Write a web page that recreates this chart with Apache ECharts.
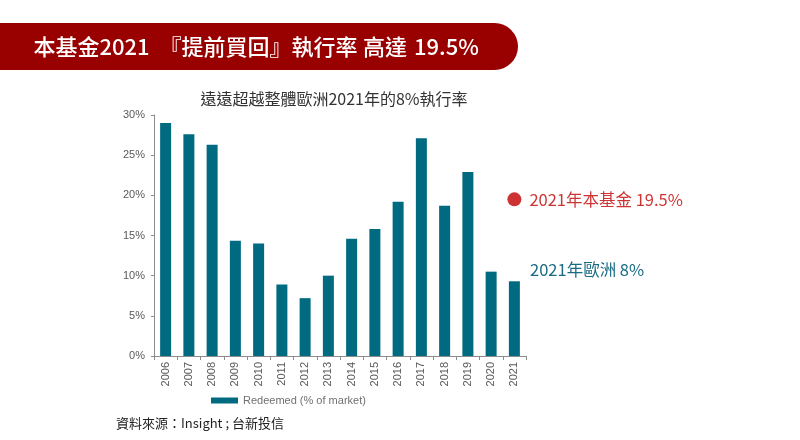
<!DOCTYPE html>
<html>
<head>
<meta charset="utf-8">
<script src="https://cdn.jsdelivr.net/npm/echarts@6/dist/echarts.min.js"></script>
<style>
html,body{margin:0;padding:0;background:#fff;}
#c{width:800px;height:440px;}
</style>
</head>
<body>
<div id="c"></div>
<script>
const years = ['2006','2007','2008','2009','2010','2011','2012','2013','2014','2015','2016','2017','2018','2019','2020','2021'];
const redeemed = [29.0, 27.6, 26.3, 14.35, 14.0, 8.9, 7.2, 10.0, 14.6, 15.8, 19.2, 27.1, 18.7, 22.9, 10.5, 9.3];
const fundRate = [null, null, null, null, null, null, null, null, null, null, null, null, null, null, null, 19.5];
const yTicks = [0, 5, 10, 15, 20, 25, 30];

const headerParts = ['本基金2021', '『提前買回』執行率', '高達', '19.5%'];
const subTitle = '遠遠超越整體歐洲2021年的8%執行率';
const seriesName = 'Redeemed (% of market)';
const fundLabel = '2021年本基金 19.5%';
const europeLabel = '2021年歐洲 8%';
const sourceText = '資料來源：Insight ; 台新投信';

const chart = echarts.init(document.getElementById('c'), null, {renderer: 'canvas'});
const cjk = '"Noto Sans CJK TC", "Noto Sans CJK SC", "Noto Sans", sans-serif';
const arial = '"Liberation Sans", Arial, sans-serif';

const headerX = [33.5, 159.5, 363, 414];
const headerGraphics = headerParts.map(function (t, i) {
  return {
    type: 'text', x: headerX[i], y: 47, z: 10,
    style: {text: t, fill: '#ffffff', font: '500 22px ' + cjk, textVerticalAlign: 'middle', verticalAlign: 'middle'}
  };
});

chart.setOption({
  animation: false,
  backgroundColor: '#ffffff',
  grid: {left: 154, right: 274, top: 115, bottom: 84, containLabel: false},
  legend: {
    data: [seriesName],
    left: 206, top: 390,
    itemWidth: 27, itemHeight: 6, itemGap: 4,
    textStyle: {fontFamily: arial, fontSize: 11, color: '#707070'},
    icon: 'rect'
  },
  xAxis: {
    type: 'category',
    data: years,
    boundaryGap: true,
    axisLine: {lineStyle: {color: '#8c8c8c', width: 1}},
    axisTick: {show: true, alignWithLabel: false, length: 4, lineStyle: {color: '#8c8c8c'}},
    axisLabel: {rotate: 90, fontFamily: arial, fontSize: 11, color: '#595959', margin: 6, interval: 0}
  },
  yAxis: {
    type: 'value',
    min: 0, max: 30, interval: 5,
    splitLine: {show: false},
    axisLine: {show: true, lineStyle: {color: '#8c8c8c', width: 1}},
    axisTick: {show: true, length: 3, lineStyle: {color: '#8c8c8c'}},
    axisLabel: {
      fontFamily: arial, fontSize: 11, color: '#595959', margin: 9,
      formatter: function (v) { return yTicks.indexOf(v) >= 0 ? v + '%' : ''; }
    }
  },
  series: [
    {
      name: seriesName,
      type: 'bar',
      data: redeemed,
      barWidth: 11,
      itemStyle: {color: '#006a80'}
    },
    {
      name: 'fund',
      type: 'scatter',
      data: fundRate,
      symbol: 'circle',
      symbolSize: 14,
      itemStyle: {color: '#c00000'},
      label: {
        show: true, position: 'right', distance: 8,
        formatter: fundLabel,
        fontFamily: cjk, fontSize: 16.5, color: '#c00000'
      },
      z: 5
    }
  ],
  graphic: [
    {
      type: 'rect',
      shape: {x: -30, y: 23, width: 548, height: 47, r: [0, 23.5, 23.5, 0]},
      style: {fill: '#990000'}
    }
  ].concat(headerGraphics).concat([
    {
      type: 'text',
      x: 334, y: 99,
      style: {text: subTitle, fill: '#333333', font: '16px ' + cjk, textAlign: 'center', align: 'center', textVerticalAlign: 'middle', verticalAlign: 'middle'}
    },
    {
      type: 'text',
      x: 530, y: 270,
      style: {text: europeLabel, fill: '#1a6a84', font: '16.5px ' + cjk, textVerticalAlign: 'middle', verticalAlign: 'middle'}
    },
    {
      type: 'text',
      x: 116, y: 423,
      style: {text: sourceText, fill: '#222222', font: '13px ' + cjk, textVerticalAlign: 'middle', verticalAlign: 'middle'}
    }
  ])
});
</script>
</body>
</html>
